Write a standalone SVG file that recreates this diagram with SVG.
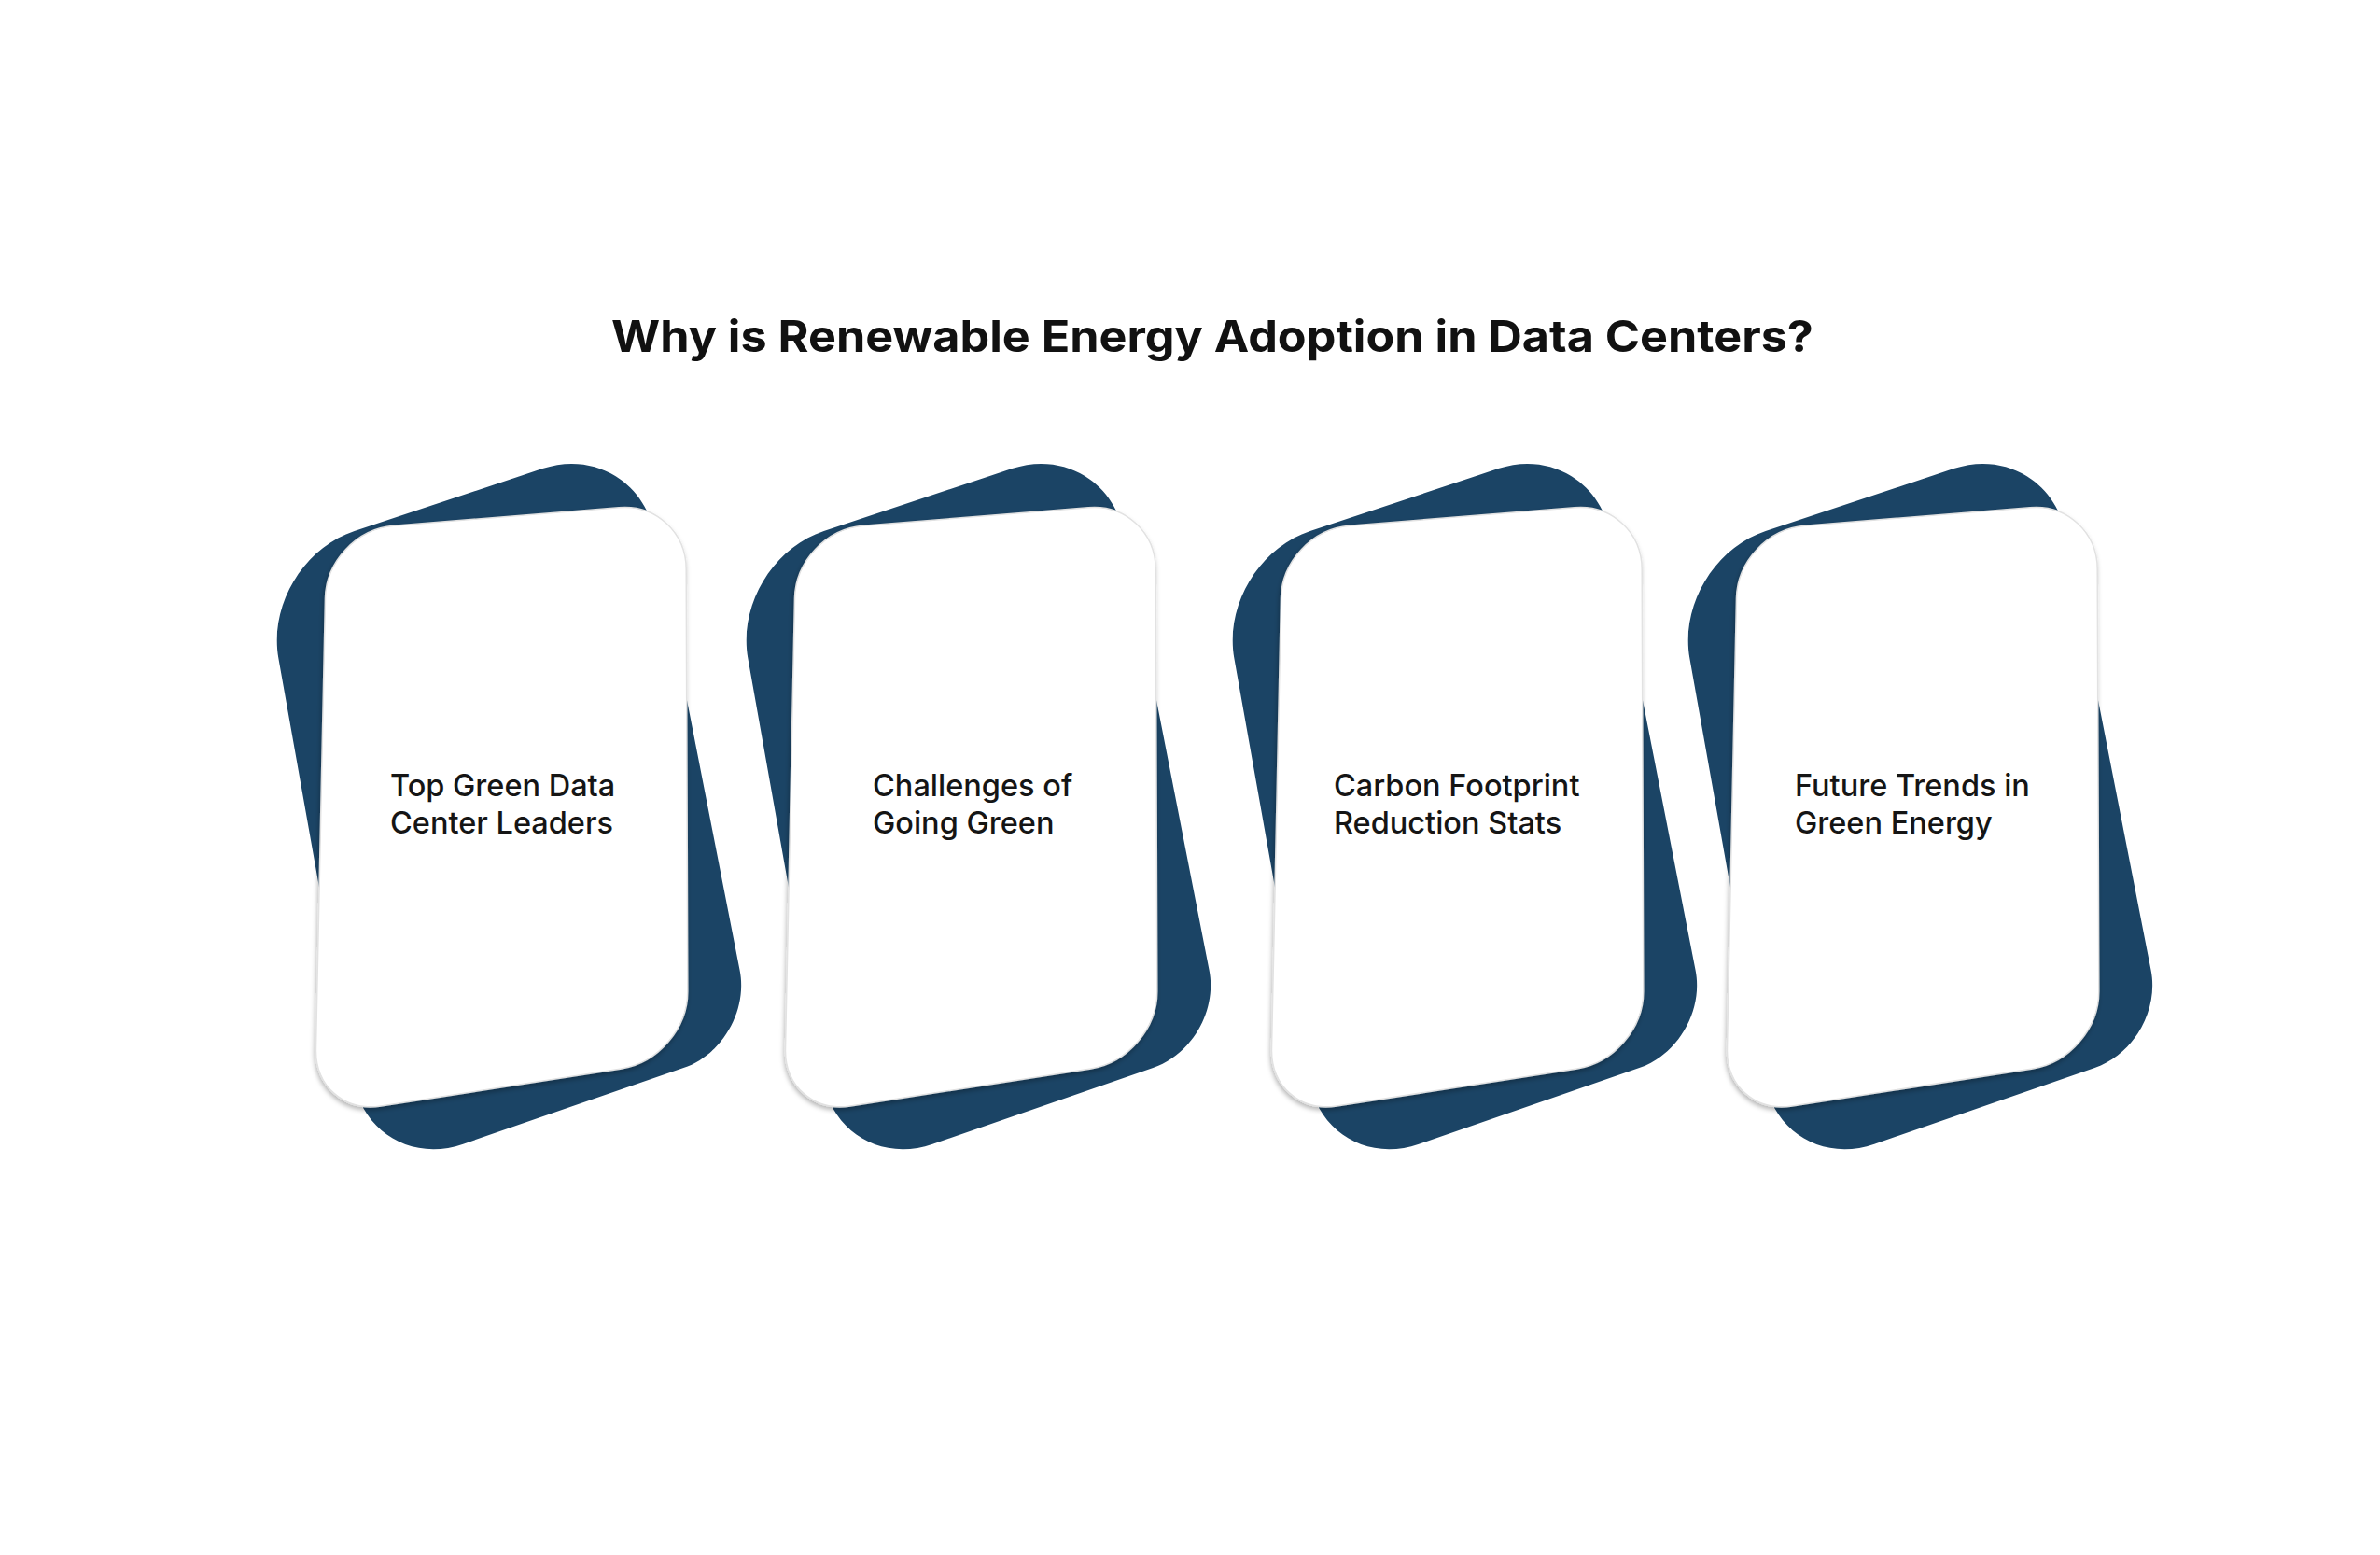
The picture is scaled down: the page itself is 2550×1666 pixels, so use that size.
<svg xmlns="http://www.w3.org/2000/svg" xmlns:xlink="http://www.w3.org/1999/xlink" width="2550" height="1666" viewBox="0 0 2550 1666">
<style>
.title{font-family:Inter,"Liberation Sans",sans-serif;font-weight:700;font-size:47px;fill:#111}
.lbl{font-family:Inter,"Liberation Sans",sans-serif;font-weight:500;font-size:32.5px;fill:#151515}
.back{fill:#1b4465}
.front{fill:#ffffff;stroke:#e2e2e2;stroke-width:1.5}
</style>
<defs>
<filter id="sh" x="-10%" y="-10%" width="120%" height="120%">
<feDropShadow dx="-1" dy="3" stdDeviation="2.5" flood-color="#000" flood-opacity="0.28"/>
</filter>
<g id="card">
<path class="back" d="M379.7 568.9 L581.3 502.1 C636.1 483.9 690.1 515.4 701.2 572 L792.6 1039.5 C801.1 1082.7 774 1129.7 732.4 1144.1 L496.2 1225.7 C441.6 1244.6 388.7 1213.5 378.6 1156.6 L298.4 705.4 C288.3 648.5 324.9 587.1 379.7 568.9 Z"/>
<path class="front" filter="url(#sh)" d="M421.8 563.2 L663.2 543.8 C702.8 540.6 735.1 570.3 735.2 610 L736.8 1062 C736.9 1101.7 705.1 1138.9 665.8 1145 L408.2 1185 C368.9 1191.1 337.7 1163.7 338.5 1124 L348.5 641 C349.3 601.3 382.2 566.4 421.8 563.2 Z"/>
</g>
</defs>
<rect width="2550" height="1666" fill="#ffffff"/>
<g id="title">
<text class="title" x="655" y="377" textLength="1288" lengthAdjust="spacingAndGlyphs">Why is Renewable Energy Adoption in Data Centers?</text>
</g>
<g id="node1">
<use href="#card"/>
<text class="lbl" x="418" y="853">Top Green Data</text>
<text class="lbl" x="418" y="893">Center Leaders</text>
</g>
<g id="node2">
<use href="#card" transform="translate(503,0)"/>
<text class="lbl" x="935" y="853">Challenges of</text>
<text class="lbl" x="935" y="893">Going Green</text>
</g>
<g id="node3">
<use href="#card" transform="translate(1024,0)"/>
<text class="lbl" x="1429" y="853">Carbon Footprint</text>
<text class="lbl" x="1429" y="893">Reduction Stats</text>
</g>
<g id="node4">
<use href="#card" transform="translate(1512,0)"/>
<text class="lbl" x="1923" y="853">Future Trends in</text>
<text class="lbl" x="1923" y="893">Green Energy</text>
</g>
<g id="connectors"/>
</svg>
